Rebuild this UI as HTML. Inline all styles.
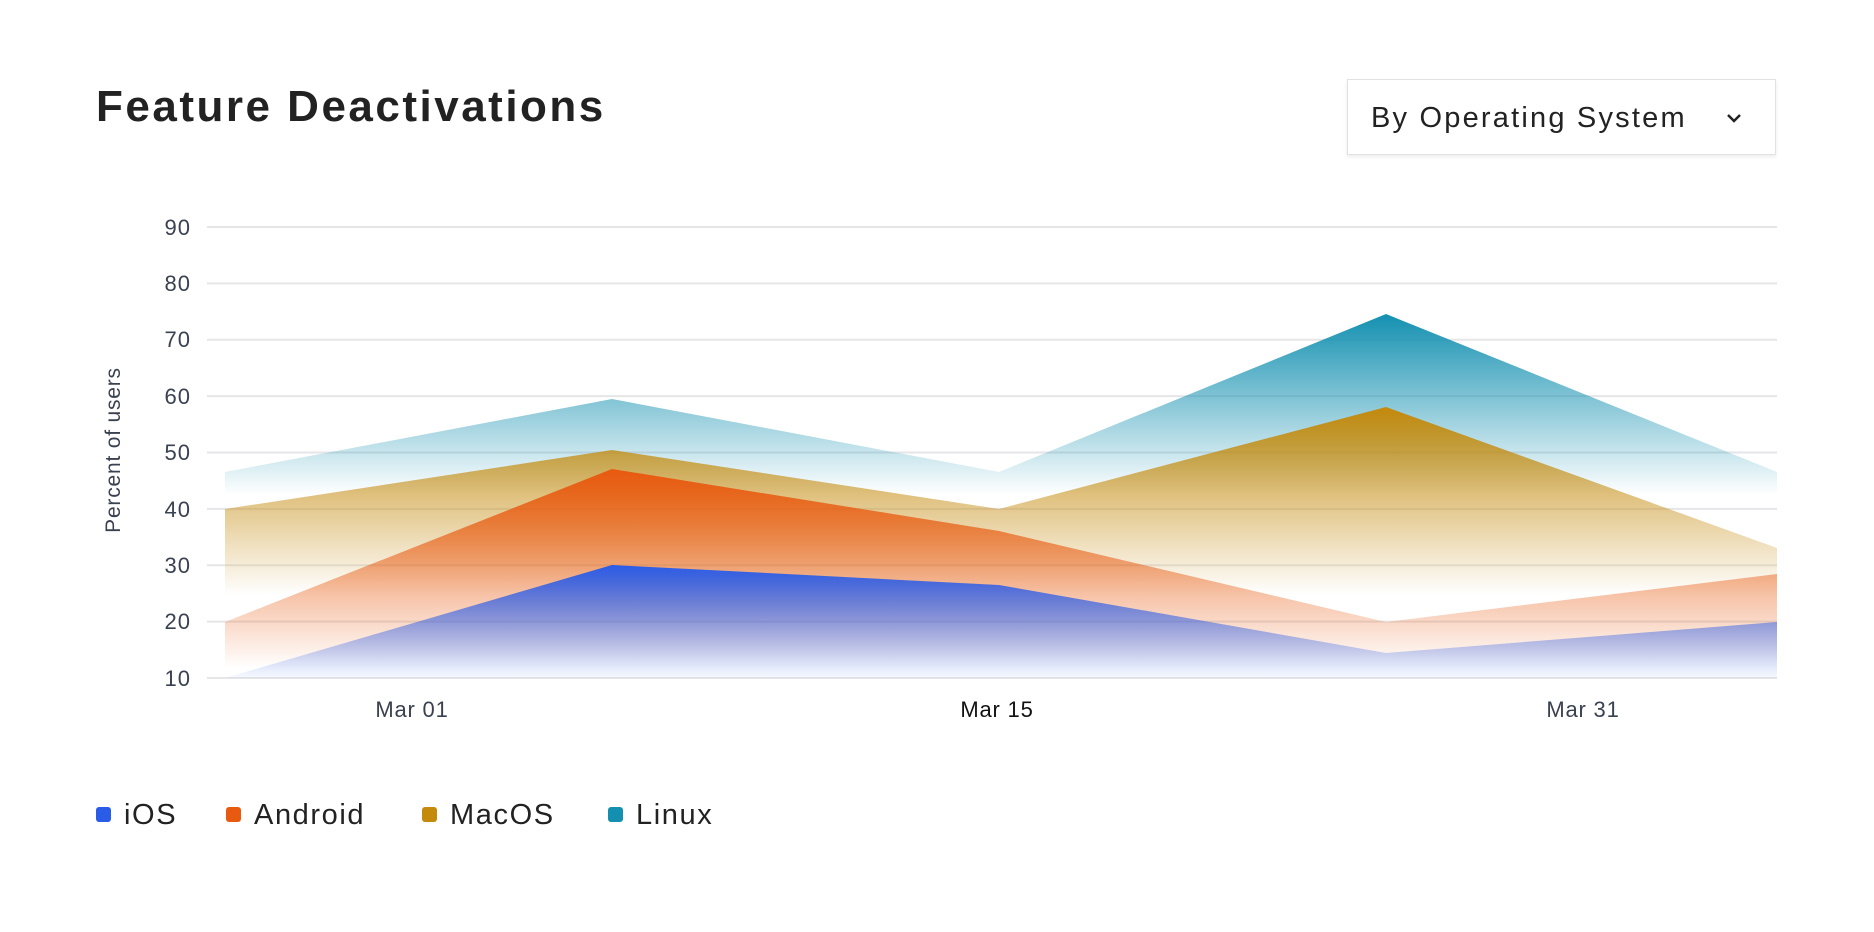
<!DOCTYPE html><html><head><style>
body{margin:0;width:1874px;height:932px;background:#fff;font-family:"Liberation Sans",sans-serif;overflow:hidden;position:relative}
.t{position:absolute;left:96px;top:82px;font-size:44px;font-weight:bold;color:#222;letter-spacing:2.5px}
.dd{position:absolute;left:1347px;top:79px;width:429px;height:76px;border:1px solid #e2e2e2;box-shadow:0 2px 4px rgba(0,0,0,.08);box-sizing:border-box;font-size:29px;color:#222;line-height:76px;padding-left:23px;letter-spacing:2.2px}
.lg{position:absolute;top:799px;font-size:29px;color:#222;letter-spacing:1.6px}
.lg i{display:inline-block;width:15px;height:15px;border-radius:3px;margin-right:13px;vertical-align:2px}
</style></head><body>
<div class="t">Feature Deactivations</div>
<div class="dd">By Operating System<svg style="position:absolute;left:378px;top:33px" width="16" height="10"><path d="M2,2 L8,8 L14,2" fill="none" stroke="#222" stroke-width="2.5"/></svg></div>
<svg width="1874" height="932" style="position:absolute;left:0;top:0">
<defs>
<linearGradient id="gl" gradientUnits="userSpaceOnUse" x1="0" y1="314" x2="0" y2="495"><stop offset="0" stop-color="#1390b0" stop-opacity="1"/><stop offset="1" stop-color="#1390b0" stop-opacity="0"/></linearGradient>
<linearGradient id="gm" gradientUnits="userSpaceOnUse" x1="0" y1="407" x2="0" y2="595"><stop offset="0" stop-color="#c48a0c" stop-opacity="1"/><stop offset="1" stop-color="#c48a0c" stop-opacity="0"/></linearGradient>
<linearGradient id="ga" gradientUnits="userSpaceOnUse" x1="0" y1="469" x2="0" y2="668"><stop offset="0" stop-color="#e85a10" stop-opacity="1"/><stop offset="1" stop-color="#e85a10" stop-opacity="0"/></linearGradient>
<linearGradient id="gi" gradientUnits="userSpaceOnUse" x1="0" y1="565" x2="0" y2="680"><stop offset="0" stop-color="#2a5ce8" stop-opacity="1"/><stop offset="1" stop-color="#2a5ce8" stop-opacity="0.02"/></linearGradient>
</defs>
<g stroke="#e6e6e8" stroke-width="2">
<line x1="207" x2="1777" y1="227" y2="227"/><line x1="207" x2="1777" y1="283.4" y2="283.4"/><line x1="207" x2="1777" y1="339.7" y2="339.7"/><line x1="207" x2="1777" y1="396.1" y2="396.1"/><line x1="207" x2="1777" y1="452.5" y2="452.5"/><line x1="207" x2="1777" y1="508.9" y2="508.9"/><line x1="207" x2="1777" y1="565.3" y2="565.3"/><line x1="207" x2="1777" y1="621.6" y2="621.6"/><line x1="207" x2="1777" y1="678" y2="678"/>
</g>
<path d="M225,472 L612,399 L999,472 L1386,314 L1777,472 L1777,678 L225,678Z" fill="url(#gl)"/>
<path d="M225,509 L612,450 L999,509 L1386,407 L1777,548 L1777,678 L225,678Z" fill="url(#gm)"/>
<path d="M225,622 L612,469 L999,531 L1386,622 L1777,574 L1777,678 L225,678Z" fill="url(#ga)"/>
<path d="M225,678 L612,565 L999,585 L1386,653 L1777,622 L1777,678 L225,678Z" fill="url(#gi)"/>
<g font-size="22" fill="#3a4150" text-anchor="end" letter-spacing="1">
<text x="191" y="235">90</text><text x="191" y="291">80</text><text x="191" y="347">70</text><text x="191" y="404">60</text><text x="191" y="460">50</text><text x="191" y="517">40</text><text x="191" y="573">30</text><text x="191" y="629">20</text><text x="191" y="686">10</text>
</g>
<g font-size="22" fill="#3a4150" text-anchor="middle" letter-spacing="0.8">
<text x="412" y="717">Mar 01</text><text x="997" y="717" fill="#111">Mar 15</text><text x="1583" y="717">Mar 31</text>
</g>
<text transform="translate(120,450) rotate(-90)" font-size="21" fill="#3a4150" text-anchor="middle" letter-spacing="0.8">Percent of users</text>
</svg>
<div class="lg" style="left:96px"><i style="background:#2a5ce8"></i>iOS</div>
<div class="lg" style="left:226px"><i style="background:#e85a10"></i>Android</div>
<div class="lg" style="left:422px"><i style="background:#c48a0c"></i>MacOS</div>
<div class="lg" style="left:608px"><i style="background:#1390b0"></i>Linux</div>
</body></html>
